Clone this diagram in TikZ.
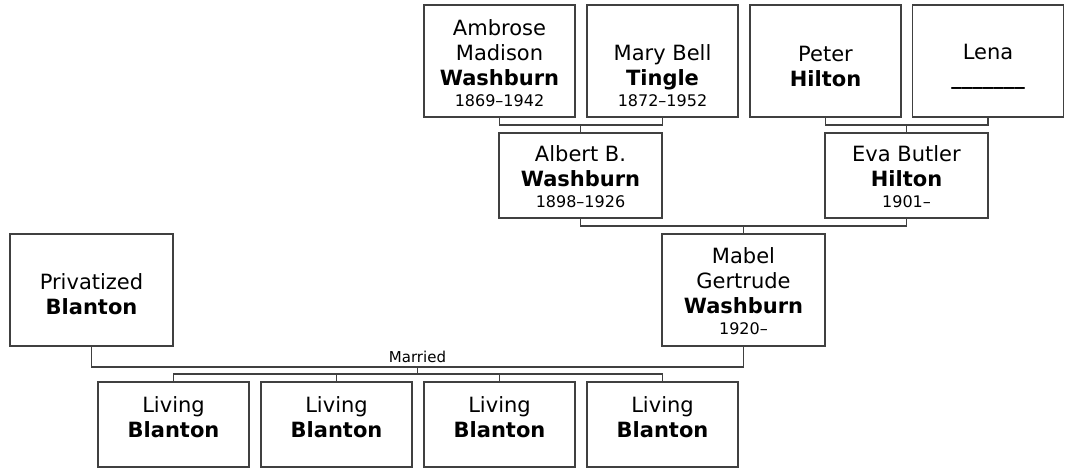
\documentclass[tikz,border=0pt]{standalone}
\usepackage{fontspec}
\setmainfont{DejaVu Sans}
\newcommand\lifespan[1]{{\fontsize{16}{19}\selectfont #1}}
\begin{document}
\begin{tikzpicture}[x=1pt,y=-1pt,
  person/.style={draw=black!75, line width=1.3pt, rectangle, inner sep=0pt},
  tall/.style={person, minimum width=151pt, minimum height=112pt},
  wide/.style={person, minimum width=163pt, minimum height=112pt},
  mid/.style={person, minimum width=163pt, minimum height=85pt},
  kid/.style={person, minimum width=151pt, minimum height=85pt},
  txt/.style={align=center, inner sep=0pt, font=\fontsize{21}{25}\selectfont},
  conn/.style={draw=black!75, line width=1.3pt},
  lbl/.style={inner sep=0pt, font=\fontsize{15}{18}\selectfont, anchor=base}
]
\useasboundingbox (0,0) rectangle (1066,468);
% boxes
\node[tall] (amb) at (499.5,61) {};
\node[tall] (mary) at (662.5,61) {};
\node[tall] (peter) at (825.5,61) {};
\node[tall] (lena) at (988,61) {};
\node[mid] (albert) at (580.5,175.5) {};
\node[mid] (eva) at (906.5,175.5) {};
\node[wide] (mabel) at (743.5,290) {};
\node[wide] (priv) at (91.5,290) {};
\node[kid] (k1) at (173.5,424.5) {};
\node[kid] (k2) at (336.5,424.5) {};
\node[kid] (k3) at (499.5,424.5) {};
\node[kid] (k4) at (662.5,424.5) {};
% texts
\node[txt] (ambt) at (499.5,63.5) {Ambrose\\Madison\\\textbf{Washburn}\\[-4pt]\lifespan{1869–1942}};
\node[txt] (maryt) at (662.5,76) {Mary Bell\\\textbf{Tingle}\\[-4pt]\lifespan{1872–1952}};
\node[txt] (petert) at (825.5,66) {Peter\\\textbf{Hilton}};
\node[txt] (lenat) at (988,67) {Lena\\\textbf{\_\_\_\_\_\_\_}};
\node[txt] (albertt) at (580.5,177) {Albert B.\\\textbf{Washburn}\\[-4pt]\lifespan{1898–1926}};
\node[txt] (evat) at (906.5,177) {Eva Butler\\\textbf{Hilton}\\[-4pt]\lifespan{1901–}};
\node[txt] (mabelt) at (743.5,291.5) {Mabel\\Gertrude\\\textbf{Washburn}\\[-4pt]\lifespan{1920–}};
\node[txt] (privt) at (91.5,294) {Privatized\\\textbf{Blanton}};
\node[txt] (k1t) at (173.5,417) {Living\\\textbf{Blanton}};
\node[txt] (k2t) at (336.5,417) {Living\\\textbf{Blanton}};
\node[txt] (k3t) at (499.5,417) {Living\\\textbf{Blanton}};
\node[txt] (k4t) at (662.5,417) {Living\\\textbf{Blanton}};
% connectors
\coordinate (c1) at (580.5,125);
\coordinate (c2) at (906.5,125);
\coordinate (c3) at (743.5,226);
\coordinate (c4) at (417.5,367);
\coordinate (c5) at (417.5,374);
\draw[conn] (amb.south) |- (c1) -| (mary.south);
\draw[conn] (c1) -- (albert.north);
\draw[conn] (peter.south) |- (c2) -| (lena.south);
\draw[conn] (c2) -- (eva.north);
\draw[conn] (albert.south) |- (c3) -| (eva.south);
\draw[conn] (c3) -- (mabel.north);
\draw[conn] (priv.south) |- (c4) -| (mabel.south);
\node[lbl] (married) at (417.5,362) {Married};
\draw[conn] (c4) -- (c5);
\draw[conn] (k1.north) |- (c5) -| (k4.north);
\draw[conn] (k2.north) -- (k2.north |- c5);
\draw[conn] (k3.north) -- (k3.north |- c5);
\end{tikzpicture}
\end{document}
